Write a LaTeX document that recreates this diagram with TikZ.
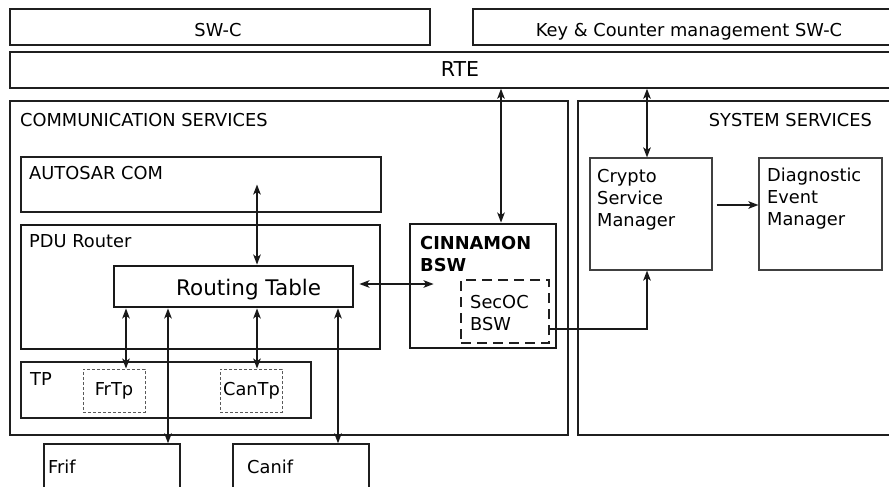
\documentclass[tikz,border=0pt]{standalone}
\usepackage{fontspec}
\setmainfont{DejaVu Sans}
\usetikzlibrary{arrows.meta,fit,calc}
\begin{document}
\begin{tikzpicture}[x=1pt,y=-1pt,
  box/.style={draw=black!88, line width=1.4pt, inner sep=0pt},
  thickbox/.style={draw=black!90, line width=2.8pt, inner sep=0pt},
  lightbox/.style={draw=black!75, line width=1.1pt, inner sep=0pt},
  dotbox/.style={draw=black!65, line width=0.9pt, dash pattern=on 3pt off 2pt, inner sep=0pt},
  dashbox/.style={draw=black!88, line width=1.7pt, dash pattern=on 10pt off 6pt, inner sep=0pt},
  txt/.style={inner sep=0pt, font=\fontsize{17.8}{22}\selectfont, align=left},
  arr/.style={line width=1.8pt, black!90, -{Stealth[length=10pt,width=7.5pt,inset=2.5pt]}},
  darr/.style={line width=1.8pt, black!90, {Stealth[length=10pt,width=7.5pt,inset=2.5pt]}-{Stealth[length=10pt,width=7.5pt,inset=2.5pt]}}
]
\useasboundingbox (0,0) rectangle (889,487);
\clip (0,0) rectangle (889,487);
\fill[white] (0,0) rectangle (889,487);

% top layers
\node[box, fit={(10,9) (430,45)}] (swc) {};
\node[box, fit={(473,9) (900,45)}] (keyswc) {};
\node[box, fit={(10,52) (900,88)}] (rte) {};
\node[txt, anchor=base] (tswc) at (218,37) {SW-C};
\node[txt, anchor=base] (tkey) at (689,37) {Key \& Counter management SW-C};
\node[txt, anchor=base, font=\fontsize{20.5}{24}\selectfont] (trte) at (460,77) {RTE};

% service areas
\node[box, fit={(10,101) (568,435)}] (comm) {};
\node[box, fit={(578,101) (900,435)}] (sys) {};
\node[txt, anchor=base west] (tcomm) at (20,126.5) {COMMUNICATION SERVICES};
\node[txt, anchor=base east] (tsys) at (872,126.5) {SYSTEM SERVICES};

% communication services content
\node[box, fit={(21,157) (381,212)}] (autosar) {};
\node[txt, anchor=base west] (tautosar) at (29,179) {AUTOSAR COM};
\node[thickbox, fit={(21,225) (380,349)}] (pdu) {};
\node[txt, anchor=base west] (tpdu) at (29,247) {PDU Router};
\node[thickbox, fit={(114,266) (353,307)}] (rt) {};
\node[txt, anchor=base west, font=\fontsize{21.5}{26}\selectfont] (trt) at (176,295) {Routing Table};
\node[box, fit={(21,362) (311,418)}] (tp) {};
\node[txt, anchor=base west] (ttp) at (30,385) {TP};
\node[dotbox, fit={(83,369) (145,412)}] (frtp) {};
\node[txt, anchor=base] (tfrtp) at (114,395) {FrTp};
\node[dotbox, fit={(220,369) (282,412)}] (cantp) {};
\node[txt, anchor=base] (tcantp) at (251.5,395) {CanTp};

\node[box, fit={(44,444) (180,500)}] (frif) {};
\node[txt, anchor=base west] (tfrif) at (48,473) {Frif};
\node[box, fit={(233,444) (369,500)}] (canif) {};
\node[txt, anchor=base west] (tcanif) at (247,473) {Canif};

\node[thickbox, fit={(410,224) (556,348)}] (cinn) {};
\node[txt, anchor=north west, font=\bfseries\fontsize{17.8}{22}\selectfont] (tcinn) at (420,236) {CINNAMON\\BSW};
\node[dashbox, fit={(461,280) (549,343)}] (secoc) {};
\node[txt, anchor=north west] (tsecoc) at (470,295) {SecOC\\BSW};

% system services content
\node[lightbox, fit={(590,158) (712,270)}] (crypto) {};
\node[txt, anchor=north west] (tcrypto) at (597,169) {Crypto\\Service\\Manager};
\node[lightbox, fit={(759,158) (882,270)}] (diag) {};
\node[txt, anchor=north west] (tdiag) at (767,168) {Diagnostic\\Event\\Manager};

% x positions of vertical connectors
\coordinate (xa) at (501,0);
\coordinate (xb) at (647,0);
\coordinate (xc) at (257,0);
\coordinate (xd) at (126,0);
\coordinate (xe) at (168,0);
\coordinate (xf) at (338,0);
\coordinate (ya) at (0,284);
\coordinate (yb) at (0,205);
\coordinate (yc) at (0,329);

% connectors
\draw[darr] (xa |- rte.south) -- (xa |- cinn.north);
\draw[darr] (xb |- rte.south) -- (xb |- crypto.north);
\draw[arr] ([xshift=4pt]crypto.east |- yb) -- (diag.west |- yb);
\draw[darr] (xc |- autosar.center) -- (xc |- rt.north);
\draw[darr] ([xshift=5pt]rt.east |- ya) -- ([xshift=25pt]cinn.west |- ya);
\draw[darr] (xd |- rt.south) -- (xd |- frtp.north);
\draw[darr] (xe |- rt.south) -- (xe |- frif.north);
\draw[darr] (xc |- rt.south) -- (xc |- cantp.north);
\draw[darr] (xf |- rt.south) -- (xf |- canif.north);
\draw[arr] (secoc.east |- yc) -| (xb |- crypto.south);
\end{tikzpicture}
\end{document}
